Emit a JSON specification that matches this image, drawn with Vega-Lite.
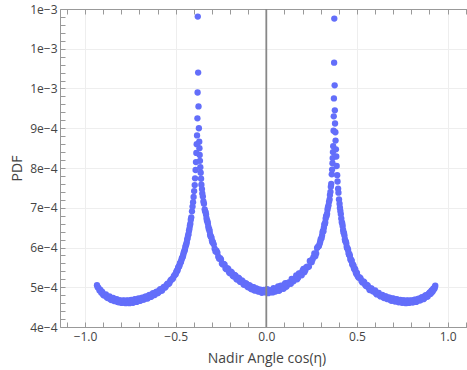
{
  "$schema": "https://vega.github.io/schema/vega-lite/v6.json",
  "autosize": "none",
  "width": 407,
  "height": 318,
  "padding": {"left": 60, "top": 9, "right": 0, "bottom": 43},
  "background": "white",
  "config": {"view": {"stroke": null}, "font": "Open Sans"},
  "layer": [
    {
      "data": {"values": [
        {"x":0,"y":4.94e-4},{"x":0.01,"y":4.85e-4},{"x":0.02,"y":4.92e-4},{"x":0.03,"y":4.88e-4},{"x":0.04,"y":4.98e-4},{"x":0.05,"y":4.89e-4},{"x":0.06,"y":4.96e-4},{"x":0.07,"y":4.91e-4},{"x":0.08,"y":5.04e-4},{"x":0.09,"y":4.99e-4},
        {"x":0.10,"y":5.07e-4},{"x":0.11,"y":5.01e-4},{"x":0.12,"y":5.11e-4},{"x":0.13,"y":5.09e-4},{"x":0.14,"y":5.21e-4},{"x":0.15,"y":5.15e-4},{"x":0.16,"y":5.23e-4},{"x":0.17,"y":5.20e-4},{"x":0.18,"y":5.35e-4},{"x":0.19,"y":5.32e-4},
        {"x":0.20,"y":5.42e-4},{"x":0.21,"y":5.38e-4},{"x":0.22,"y":5.50e-4},{"x":0.23,"y":5.51e-4},{"x":0.24,"y":5.66e-4},{"x":0.25,"y":5.63e-4},{"x":0.26,"y":5.76e-4},{"x":0.27,"y":5.78e-4},{"x":0.28,"y":5.99e-4},{"x":0.29,"y":6.04e-4},
        {"x":0.005,"y":4.95e-4},{"x":0.015,"y":4.87e-4},{"x":0.025,"y":4.92e-4},{"x":0.035,"y":4.87e-4},{"x":0.045,"y":4.96e-4},{"x":0.055,"y":4.93e-4},{"x":0.065,"y":5.02e-4},{"x":0.075,"y":4.94e-4},{"x":0.085,"y":5.02e-4},{"x":0.095,"y":4.96e-4},
        {"x":0.105,"y":5.10e-4},{"x":0.115,"y":5.05e-4},{"x":0.125,"y":5.12e-4},{"x":0.135,"y":5.09e-4},{"x":0.145,"y":5.20e-4},{"x":0.155,"y":5.20e-4},{"x":0.165,"y":5.30e-4},{"x":0.175,"y":5.24e-4},{"x":0.185,"y":5.34e-4},{"x":0.195,"y":5.30e-4},
        {"x":0.205,"y":5.46e-4},{"x":0.215,"y":5.43e-4},{"x":0.225,"y":5.52e-4},{"x":0.235,"y":5.52e-4},{"x":0.245,"y":5.67e-4},{"x":0.255,"y":5.70e-4},{"x":0.265,"y":5.85e-4},{"x":0.275,"y":5.85e-4},{"x":0.285,"y":6.02e-4},
        {"x":0.2975,"y":6.15e-4},{"x":0.3075,"y":6.30e-4},{"x":0.3125,"y":6.42e-4},{"x":0.3175,"y":6.50e-4},{"x":0.3225,"y":6.59e-4},{"x":0.3275,"y":6.73e-4},{"x":0.3325,"y":6.80e-4},{"x":0.3375,"y":6.95e-4},
        {"x":0.295,"y":6.10e-4},{"x":0.30,"y":6.21e-4},{"x":0.305,"y":6.24e-4},{"x":0.31,"y":6.38e-4},{"x":0.315,"y":6.41e-4},{"x":0.32,"y":6.58e-4},{"x":0.325,"y":6.63e-4},{"x":0.33,"y":6.79e-4},{"x":0.335,"y":6.85e-4},{"x":0.34,"y":7.01e-4},
        {"x":0.343,"y":7.06e-4},{"x":0.346,"y":7.15e-4},{"x":0.349,"y":7.21e-4},{"x":0.351,"y":7.32e-4},{"x":0.354,"y":7.40e-4},{"x":0.356,"y":7.53e-4},{"x":0.358,"y":7.60e-4},{"x":0.361,"y":7.84e-4},{"x":0.363,"y":7.96e-4},{"x":0.365,"y":8.12e-4},
        {"x":0.366,"y":8.25e-4},{"x":0.3675,"y":8.40e-4},{"x":0.369,"y":8.55e-4},{"x":0.371,"y":8.94e-4},{"x":0.372,"y":9.30e-4},{"x":0.373,"y":9.75e-4},{"x":0.374,"y":10.65e-4},{"x":0.375,"y":11.76e-4},
        {"x":0.377,"y":10.08e-4},{"x":0.378,"y":9.45e-4},{"x":0.379,"y":9.12e-4},{"x":0.381,"y":8.90e-4},{"x":0.382,"y":8.69e-4},{"x":0.384,"y":8.47e-4},{"x":0.386,"y":8.29e-4},{"x":0.388,"y":8.05e-4},{"x":0.391,"y":7.82e-4},{"x":0.393,"y":7.66e-4},
        {"x":0.396,"y":7.48e-4},{"x":0.398,"y":7.38e-4},{"x":0.401,"y":7.21e-4},{"x":0.404,"y":7.10e-4},{"x":0.406,"y":7.00e-4},{"x":0.411,"y":6.84e-4},{"x":0.416,"y":6.64e-4},{"x":0.421,"y":6.54e-4},{"x":0.426,"y":6.38e-4},{"x":0.431,"y":6.30e-4},
        {"x":0.436,"y":6.16e-4},{"x":0.441,"y":6.11e-4},{"x":0.446,"y":5.98e-4},{"x":0.451,"y":5.94e-4},{"x":0.456,"y":5.82e-4},{"x":0.461,"y":5.79e-4},{"x":0.466,"y":5.68e-4},{"x":0.471,"y":5.66e-4},{"x":0.476,"y":5.56e-4},{"x":0.481,"y":5.54e-4},
        {"x":0.486,"y":5.45e-4},{"x":0.491,"y":5.44e-4},{"x":0.496,"y":5.35e-4},{"x":0.50,"y":5.36e-4},{"x":0.51,"y":5.24e-4},{"x":0.52,"y":5.22e-4},{"x":0.53,"y":5.12e-4},{"x":0.54,"y":5.13e-4},{"x":0.55,"y":5.03e-4},{"x":0.56,"y":5.04e-4},
        {"x":0.4085,"y":6.92e-4},{"x":0.4135,"y":6.73e-4},{"x":0.4185,"y":6.61e-4},{"x":0.4235,"y":6.44e-4},{"x":0.4285,"y":6.36e-4},{"x":0.4335,"y":6.21e-4},{"x":0.4385,"y":6.15e-4},{"x":0.4435,"y":6.02e-4},{"x":0.4485,"y":5.98e-4},{"x":0.4535,"y":5.86e-4},
        {"x":0.4585,"y":5.83e-4},{"x":0.4635,"y":5.72e-4},{"x":0.4685,"y":5.69e-4},{"x":0.4735,"y":5.59e-4},{"x":0.4785,"y":5.57e-4},{"x":0.4835,"y":5.48e-4},{"x":0.4885,"y":5.47e-4},{"x":0.4935,"y":5.38e-4},{"x":0.498,"y":5.33e-4},
        {"x":0.505,"y":5.27e-4},{"x":0.515,"y":5.25e-4},{"x":0.525,"y":5.16e-4},{"x":0.535,"y":5.15e-4},{"x":0.545,"y":5.06e-4},{"x":0.555,"y":5.06e-4},{"x":0.565,"y":4.98e-4},{"x":0.575,"y":4.97e-4},{"x":0.585,"y":4.91e-4},{"x":0.595,"y":4.91e-4},
        {"x":0.605,"y":4.84e-4},{"x":0.615,"y":4.86e-4},{"x":0.625,"y":4.80e-4},{"x":0.635,"y":4.80e-4},{"x":0.645,"y":4.75e-4},{"x":0.655,"y":4.77e-4},{"x":0.665,"y":4.71e-4},{"x":0.675,"y":4.74e-4},{"x":0.685,"y":4.68e-4},{"x":0.695,"y":4.71e-4},
        {"x":0.705,"y":4.66e-4},{"x":0.715,"y":4.69e-4},{"x":0.725,"y":4.64e-4},{"x":0.735,"y":4.67e-4},{"x":0.745,"y":4.62e-4},{"x":0.755,"y":4.67e-4},{"x":0.765,"y":4.61e-4},{"x":0.775,"y":4.66e-4},{"x":0.785,"y":4.61e-4},{"x":0.795,"y":4.67e-4},
        {"x":0.805,"y":4.62e-4},{"x":0.815,"y":4.68e-4},{"x":0.825,"y":4.63e-4},{"x":0.835,"y":4.70e-4},{"x":0.845,"y":4.67e-4},{"x":0.855,"y":4.74e-4},{"x":0.865,"y":4.70e-4},{"x":0.875,"y":4.78e-4},{"x":0.885,"y":4.76e-4},{"x":0.895,"y":4.83e-4},
        {"x":0.9025,"y":4.87e-4},{"x":0.9075,"y":4.85e-4},{"x":0.9125,"y":4.92e-4},{"x":0.9175,"y":4.90e-4},{"x":0.9225,"y":4.97e-4},{"x":0.9275,"y":4.97e-4},
        {"x":0.57,"y":4.93e-4},{"x":0.58,"y":4.97e-4},{"x":0.59,"y":4.89e-4},{"x":0.60,"y":4.92e-4},{"x":0.61,"y":4.82e-4},{"x":0.62,"y":4.86e-4},{"x":0.63,"y":4.77e-4},{"x":0.64,"y":4.81e-4},{"x":0.65,"y":4.73e-4},{"x":0.66,"y":4.77e-4},
        {"x":0.67,"y":4.70e-4},{"x":0.68,"y":4.74e-4},{"x":0.69,"y":4.66e-4},{"x":0.70,"y":4.72e-4},{"x":0.71,"y":4.64e-4},{"x":0.72,"y":4.70e-4},{"x":0.73,"y":4.62e-4},{"x":0.74,"y":4.68e-4},{"x":0.75,"y":4.61e-4},{"x":0.76,"y":4.67e-4},
        {"x":0.77,"y":4.60e-4},{"x":0.78,"y":4.67e-4},{"x":0.79,"y":4.61e-4},{"x":0.80,"y":4.66e-4},{"x":0.81,"y":4.62e-4},{"x":0.82,"y":4.69e-4},{"x":0.83,"y":4.64e-4},{"x":0.84,"y":4.71e-4},{"x":0.85,"y":4.67e-4},{"x":0.86,"y":4.75e-4},
        {"x":0.87,"y":4.71e-4},{"x":0.88,"y":4.80e-4},{"x":0.89,"y":4.77e-4},{"x":0.90,"y":4.86e-4},{"x":0.905,"y":4.83e-4},{"x":0.91,"y":4.90e-4},{"x":0.915,"y":4.88e-4},{"x":0.92,"y":4.95e-4},{"x":0.925,"y":4.95e-4},{"x":0.93,"y":5.01e-4},{"x":0.932,"y":5.04e-4},
        {"x":-0.005,"y":4.87e-4},{"x":-0.015,"y":4.93e-4},{"x":-0.025,"y":4.86e-4},{"x":-0.035,"y":4.94e-4},{"x":-0.045,"y":4.89e-4},{"x":-0.055,"y":4.97e-4},{"x":-0.065,"y":4.92e-4},{"x":-0.075,"y":5.00e-4},{"x":-0.085,"y":4.96e-4},{"x":-0.095,"y":5.05e-4},
        {"x":-0.105,"y":5.02e-4},{"x":-0.115,"y":5.10e-4},{"x":-0.125,"y":5.07e-4},{"x":-0.135,"y":5.17e-4},{"x":-0.145,"y":5.14e-4},{"x":-0.155,"y":5.24e-4},{"x":-0.165,"y":5.21e-4},{"x":-0.175,"y":5.31e-4},{"x":-0.185,"y":5.29e-4},{"x":-0.195,"y":5.39e-4},
        {"x":-0.205,"y":5.37e-4},{"x":-0.215,"y":5.48e-4},{"x":-0.225,"y":5.47e-4},{"x":-0.235,"y":5.59e-4},{"x":-0.245,"y":5.60e-4},{"x":-0.255,"y":5.73e-4},{"x":-0.265,"y":5.77e-4},{"x":-0.275,"y":5.92e-4},{"x":-0.285,"y":5.97e-4},{"x":-0.295,"y":6.14e-4},
        {"x":-0.01,"y":4.92e-4},{"x":-0.02,"y":4.88e-4},{"x":-0.03,"y":4.93e-4},{"x":-0.04,"y":4.90e-4},{"x":-0.05,"y":4.96e-4},{"x":-0.06,"y":4.92e-4},{"x":-0.07,"y":5.00e-4},{"x":-0.08,"y":4.95e-4},{"x":-0.09,"y":5.04e-4},{"x":-0.10,"y":5.00e-4},
        {"x":-0.11,"y":5.09e-4},{"x":-0.12,"y":5.06e-4},{"x":-0.13,"y":5.15e-4},{"x":-0.14,"y":5.13e-4},{"x":-0.15,"y":5.22e-4},{"x":-0.16,"y":5.19e-4},{"x":-0.17,"y":5.29e-4},{"x":-0.18,"y":5.27e-4},{"x":-0.19,"y":5.37e-4},{"x":-0.20,"y":5.35e-4},
        {"x":-0.21,"y":5.46e-4},{"x":-0.22,"y":5.45e-4},{"x":-0.23,"y":5.57e-4},{"x":-0.24,"y":5.57e-4},{"x":-0.25,"y":5.70e-4},{"x":-0.26,"y":5.72e-4},{"x":-0.27,"y":5.87e-4},{"x":-0.28,"y":5.90e-4},{"x":-0.29,"y":6.08e-4},
        {"x":-0.2975,"y":6.13e-4},{"x":-0.3025,"y":6.25e-4},{"x":-0.3075,"y":6.28e-4},{"x":-0.3125,"y":6.41e-4},{"x":-0.3175,"y":6.47e-4},{"x":-0.3225,"y":6.61e-4},{"x":-0.3275,"y":6.68e-4},{"x":-0.3325,"y":6.83e-4},{"x":-0.3375,"y":6.91e-4},
        {"x":-0.30,"y":6.18e-4},{"x":-0.305,"y":6.27e-4},{"x":-0.31,"y":6.33e-4},{"x":-0.315,"y":6.46e-4},{"x":-0.32,"y":6.53e-4},{"x":-0.325,"y":6.66e-4},{"x":-0.33,"y":6.74e-4},{"x":-0.335,"y":6.89e-4},{"x":-0.34,"y":6.96e-4},{"x":-0.344,"y":7.10e-4},
        {"x":-0.347,"y":7.16e-4},{"x":-0.35,"y":7.28e-4},{"x":-0.353,"y":7.36e-4},{"x":-0.355,"y":7.47e-4},{"x":-0.358,"y":7.58e-4},{"x":-0.36,"y":7.73e-4},{"x":-0.362,"y":7.88e-4},{"x":-0.364,"y":8.02e-4},{"x":-0.366,"y":8.18e-4},{"x":-0.3675,"y":8.33e-4},
        {"x":-0.369,"y":8.50e-4},{"x":-0.37,"y":8.66e-4},{"x":-0.372,"y":9.00e-4},{"x":-0.374,"y":9.55e-4},{"x":-0.376,"y":10.40e-4},{"x":-0.378,"y":11.81e-4},
        {"x":-0.379,"y":9.90e-4},{"x":-0.38,"y":9.25e-4},{"x":-0.382,"y":8.82e-4},{"x":-0.384,"y":8.60e-4},{"x":-0.386,"y":8.38e-4},{"x":-0.388,"y":8.15e-4},{"x":-0.39,"y":7.95e-4},{"x":-0.393,"y":7.74e-4},{"x":-0.395,"y":7.57e-4},{"x":-0.398,"y":7.42e-4},
        {"x":-0.401,"y":7.27e-4},{"x":-0.404,"y":7.14e-4},{"x":-0.407,"y":7.03e-4},{"x":-0.41,"y":6.91e-4},{"x":-0.414,"y":6.76e-4},{"x":-0.419,"y":6.60e-4},{"x":-0.424,"y":6.47e-4},{"x":-0.429,"y":6.34e-4},{"x":-0.434,"y":6.24e-4},{"x":-0.439,"y":6.13e-4},
        {"x":-0.444,"y":6.05e-4},{"x":-0.449,"y":5.95e-4},{"x":-0.454,"y":5.89e-4},{"x":-0.459,"y":5.80e-4},{"x":-0.464,"y":5.74e-4},{"x":-0.469,"y":5.67e-4},{"x":-0.474,"y":5.62e-4},{"x":-0.479,"y":5.55e-4},{"x":-0.484,"y":5.51e-4},{"x":-0.489,"y":5.44e-4},
        {"x":-0.4165,"y":6.70e-4},{"x":-0.4215,"y":6.55e-4},{"x":-0.4265,"y":6.42e-4},{"x":-0.4315,"y":6.30e-4},{"x":-0.4365,"y":6.20e-4},{"x":-0.4415,"y":6.08e-4},{"x":-0.4465,"y":6.01e-4},{"x":-0.4515,"y":5.91e-4},{"x":-0.4565,"y":5.85e-4},{"x":-0.4615,"y":5.76e-4},
        {"x":-0.4665,"y":5.72e-4},{"x":-0.4715,"y":5.63e-4},{"x":-0.4765,"y":5.60e-4},{"x":-0.4815,"y":5.52e-4},{"x":-0.4865,"y":5.49e-4},{"x":-0.4915,"y":5.41e-4},{"x":-0.497,"y":5.38e-4},
        {"x":-0.51,"y":5.28e-4},{"x":-0.52,"y":5.20e-4},{"x":-0.53,"y":5.16e-4},{"x":-0.54,"y":5.08e-4},{"x":-0.55,"y":5.06e-4},{"x":-0.56,"y":4.99e-4},{"x":-0.57,"y":4.98e-4},{"x":-0.58,"y":4.91e-4},{"x":-0.59,"y":4.92e-4},{"x":-0.60,"y":4.85e-4},
        {"x":-0.61,"y":4.87e-4},{"x":-0.62,"y":4.80e-4},{"x":-0.63,"y":4.82e-4},{"x":-0.64,"y":4.76e-4},{"x":-0.65,"y":4.78e-4},{"x":-0.66,"y":4.72e-4},{"x":-0.67,"y":4.75e-4},{"x":-0.68,"y":4.69e-4},{"x":-0.69,"y":4.72e-4},{"x":-0.70,"y":4.66e-4},
        {"x":-0.71,"y":4.70e-4},{"x":-0.72,"y":4.64e-4},{"x":-0.73,"y":4.68e-4},{"x":-0.74,"y":4.62e-4},{"x":-0.75,"y":4.67e-4},{"x":-0.76,"y":4.61e-4},{"x":-0.77,"y":4.66e-4},{"x":-0.78,"y":4.61e-4},{"x":-0.79,"y":4.66e-4},{"x":-0.80,"y":4.61e-4},
        {"x":-0.81,"y":4.67e-4},{"x":-0.82,"y":4.63e-4},{"x":-0.83,"y":4.69e-4},{"x":-0.84,"y":4.66e-4},{"x":-0.85,"y":4.72e-4},{"x":-0.86,"y":4.70e-4},{"x":-0.87,"y":4.76e-4},{"x":-0.88,"y":4.75e-4},{"x":-0.89,"y":4.81e-4},{"x":-0.90,"y":4.81e-4},
        {"x":-0.494,"y":5.41e-4},{"x":-0.50,"y":5.33e-4},{"x":-0.505,"y":5.31e-4},{"x":-0.515,"y":5.22e-4},{"x":-0.525,"y":5.19e-4},{"x":-0.535,"y":5.10e-4},{"x":-0.545,"y":5.09e-4},{"x":-0.555,"y":5.01e-4},{"x":-0.565,"y":5.01e-4},{"x":-0.575,"y":4.92e-4},
        {"x":-0.585,"y":4.95e-4},{"x":-0.595,"y":4.87e-4},{"x":-0.605,"y":4.89e-4},{"x":-0.615,"y":4.81e-4},{"x":-0.625,"y":4.85e-4},{"x":-0.635,"y":4.76e-4},{"x":-0.645,"y":4.81e-4},{"x":-0.655,"y":4.72e-4},{"x":-0.665,"y":4.77e-4},{"x":-0.675,"y":4.69e-4},
        {"x":-0.685,"y":4.74e-4},{"x":-0.695,"y":4.66e-4},{"x":-0.705,"y":4.72e-4},{"x":-0.715,"y":4.63e-4},{"x":-0.725,"y":4.70e-4},{"x":-0.735,"y":4.61e-4},{"x":-0.745,"y":4.68e-4},{"x":-0.755,"y":4.60e-4},{"x":-0.765,"y":4.67e-4},{"x":-0.775,"y":4.60e-4},
        {"x":-0.785,"y":4.67e-4},{"x":-0.795,"y":4.61e-4},{"x":-0.805,"y":4.67e-4},{"x":-0.815,"y":4.62e-4},{"x":-0.825,"y":4.70e-4},{"x":-0.835,"y":4.65e-4},{"x":-0.845,"y":4.73e-4},{"x":-0.855,"y":4.68e-4},{"x":-0.865,"y":4.77e-4},{"x":-0.875,"y":4.73e-4},
        {"x":-0.885,"y":4.82e-4},{"x":-0.895,"y":4.79e-4},{"x":-0.905,"y":4.88e-4},{"x":-0.91,"y":4.86e-4},{"x":-0.915,"y":4.93e-4},{"x":-0.92,"y":4.92e-4},{"x":-0.925,"y":4.98e-4},{"x":-0.93,"y":5.00e-4},{"x":-0.934,"y":5.05e-4}
      ]},
      "mark": {"type": "point", "filled": true, "size": 40, "color": "#636efa", "opacity": 1},
      "encoding": {
        "x": {
          "field": "x", "type": "quantitative",
          "scale": {"domain": [-1.138, 1.107], "nice": false, "zero": false},
          "axis": {
            "orient": "bottom",
            "values": [-1.1,-1,-0.9,-0.8,-0.7,-0.6,-0.5,-0.4,-0.3,-0.2,-0.1,0,0.1,0.2,0.3,0.4,0.5,0.6,0.7,0.8,0.9,1,1.1],
            "format": ".1f",
            "labelExpr": "abs(datum.value*2-round(datum.value*2))<0.001 ? replace(datum.label,'-','\u2212') : ''",
            "grid": true,
            "gridColor": "#eeeeee",
            "gridOpacity": {"condition": {"test": "abs(datum.value*2-round(datum.value*2))<0.001", "value": 1}, "value": 0},
            "domainColor": "#999999",
            "tickColor": "#999999",
            "tickSize": -5,
            "labelPadding": 9,
            "labelFont": "Open Sans",
            "labelFontSize": 12,
            "labelColor": "#444444",
            "labelFlush": false,
            "labelOverlap": false,
            "title": "Nadir Angle cos(η)",
            "titleFont": "Open Sans",
            "titleFontSize": 14,
            "titleFontWeight": "normal",
            "titleColor": "#444444",
            "titleX": 206.5,
            "titleY": 35,
            "titleBaseline": "alphabetic",
            "titleAlign": "center"
          }
        },
        "y": {
          "field": "y", "type": "quantitative",
          "scale": {"domain": [0.0004, 0.0012], "nice": false, "zero": false},
          "axis": {
            "orient": "left",
            "values": [0.0004,0.00042,0.00044,0.00046,0.00048,0.0005,0.00052,0.00054,0.00056,0.00058,0.0006,0.00062,0.00064,0.00066,0.00068,0.0007,0.00072,0.00074,0.00076,0.00078,0.0008,0.00082,0.00084,0.00086,0.00088,0.0009,0.00092,0.00094,0.00096,0.00098,0.001,0.00102,0.00104,0.00106,0.00108,0.0011,0.00112,0.00114,0.00116,0.00118,0.0012],
            "format": ".0e",
            "labelExpr": "abs(datum.value*10000-round(datum.value*10000))<0.01 ? replace(datum.label,'-','\u2212') : ''",
            "grid": true,
            "gridColor": "#eeeeee",
            "gridOpacity": {"condition": {"test": "abs(datum.value*10000-round(datum.value*10000))<0.01", "value": 1}, "value": 0},
            "domainColor": "#999999",
            "tickColor": "#999999",
            "tickSize": -5,
            "labelPadding": 8,
            "labelFont": "Open Sans",
            "labelFontSize": 12,
            "labelColor": "#444444",
            "labelFlush": false,
            "labelOverlap": false,
            "title": "PDF",
            "titleFont": "Open Sans",
            "titleFontSize": 14,
            "titleFontWeight": "normal",
            "titleColor": "#444444",
            "titleX": -43,
            "titleY": 159,
            "titleAngle": -90,
            "titleBaseline": "middle",
            "titleAlign": "center"
          }
        }
      }
    },
    {
      "data": {"values": [{"x": 0}]},
      "mark": {"type": "rule", "color": "#888888", "strokeWidth": 1.8},
      "encoding": {
        "x": {
          "field": "x", "type": "quantitative",
          "scale": {"domain": [-1.138, 1.107], "nice": false, "zero": false},
          "axis": {
            "orient": "top",
            "values": [-1.1,-1,-0.9,-0.8,-0.7,-0.6,-0.5,-0.4,-0.3,-0.2,-0.1,0,0.1,0.2,0.3,0.4,0.5,0.6,0.7,0.8,0.9,1,1.1],
            "labels": false,
            "grid": false,
            "title": null,
            "domainColor": "#999999",
            "tickColor": "#999999",
            "tickSize": -5
          }
        }
      }
    }
  ]
}
